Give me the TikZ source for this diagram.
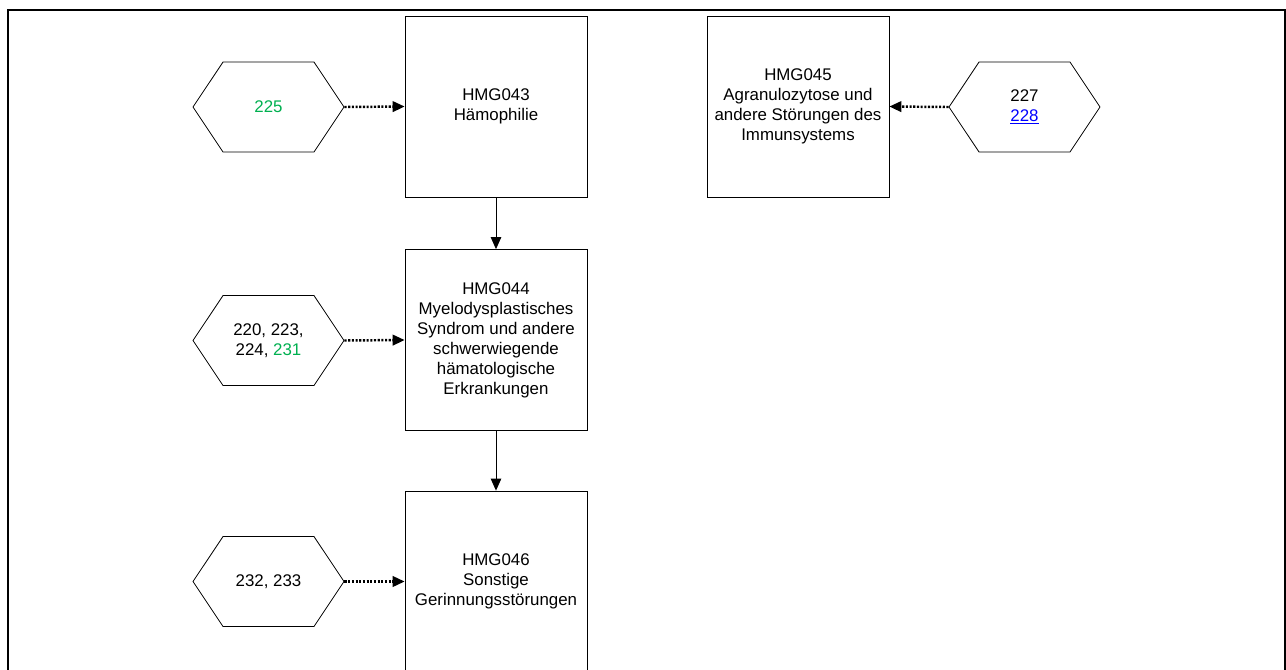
\documentclass[tikz,border=0pt]{standalone}
\usepackage{fontspec}
\setmainfont{Liberation Sans}
\usetikzlibrary{arrows.meta,shapes.symbols}
\definecolor{hmggreen}{RGB}{0,176,80}
\definecolor{hmgblue}{RGB}{0,0,255}
\tikzset{
  hmgbox/.style={draw, line width=0.45pt, minimum width=3.64cm, minimum height=3.62cm,
    align=center, inner sep=2pt, font=\fontsize{9.6}{11.4}\selectfont},
  hexbox/.style={signal, signal to=east and west, signal pointer angle=112.6, draw,
    line width=0.45pt, minimum width=3.02cm, minimum height=1.8cm, align=center,
    inner sep=1pt, font=\fontsize{9.6}{11.4}\selectfont},
  feed/.style={line width=1.4pt, dash pattern=on 1.2pt off 0.9pt,
    -{Triangle[length=0.24cm, width=0.21cm]}},
  flow/.style={line width=0.5pt, -{Triangle[length=0.24cm, width=0.21cm]}}
}
\begin{document}
\begin{tikzpicture}[x=0.02cm, y=-0.02cm]
    \useasboundingbox (0, 0) rectangle (1286, 670);
    \draw[line width=1.1pt] (8, 670) -- (8, 10) -- (1285, 10) -- (1285, 670);
    % HMG boxes
    \node[hmgbox] (hmg043) at (496, 106.5) {HMG043\\Hämophilie};
    \node[hmgbox] (hmg045) at (798, 106.5) {HMG045\\Agranulozytose und\\andere Störungen des\\Immunsystems};
    \node[hmgbox] (hmg044) at (496, 340) {HMG044\\Myelodysplastisches\\Syndrom und andere\\schwerwiegende\\hämatologische\\Erkrankungen};
    \node[hmgbox] (hmg046) at (496, 581.5) {HMG046\\Sonstige\\Gerinnungsstörungen};
    % hexagons
    \node[hexbox] (hcc225) at (268.5, 107) {\textcolor{hmggreen}{225}};
    \node[hexbox] (hcc227) at (1024.5, 107) {227\\\textcolor{hmgblue}{\underline{228}}};
    \node[hexbox] (hcc220) at (268.5, 340.5) {220, 223,\\224, \textcolor{hmggreen}{231}};
    \node[hexbox] (hcc232) at (268.5, 581.5) {232, 233};
    % connectors
    \draw[feed] (hcc225.east) -- (hmg043.west);
    \draw[feed] (hcc227.west) -- (hmg045.east);
    \draw[feed] (hcc220.east) -- (hmg044.west);
    \draw[feed] (hcc232.east) -- (hmg046.west);
    \draw[flow] (hmg043) -- (hmg044);
    \draw[flow] (hmg044) -- (hmg046);
\end{tikzpicture}
\end{document}
